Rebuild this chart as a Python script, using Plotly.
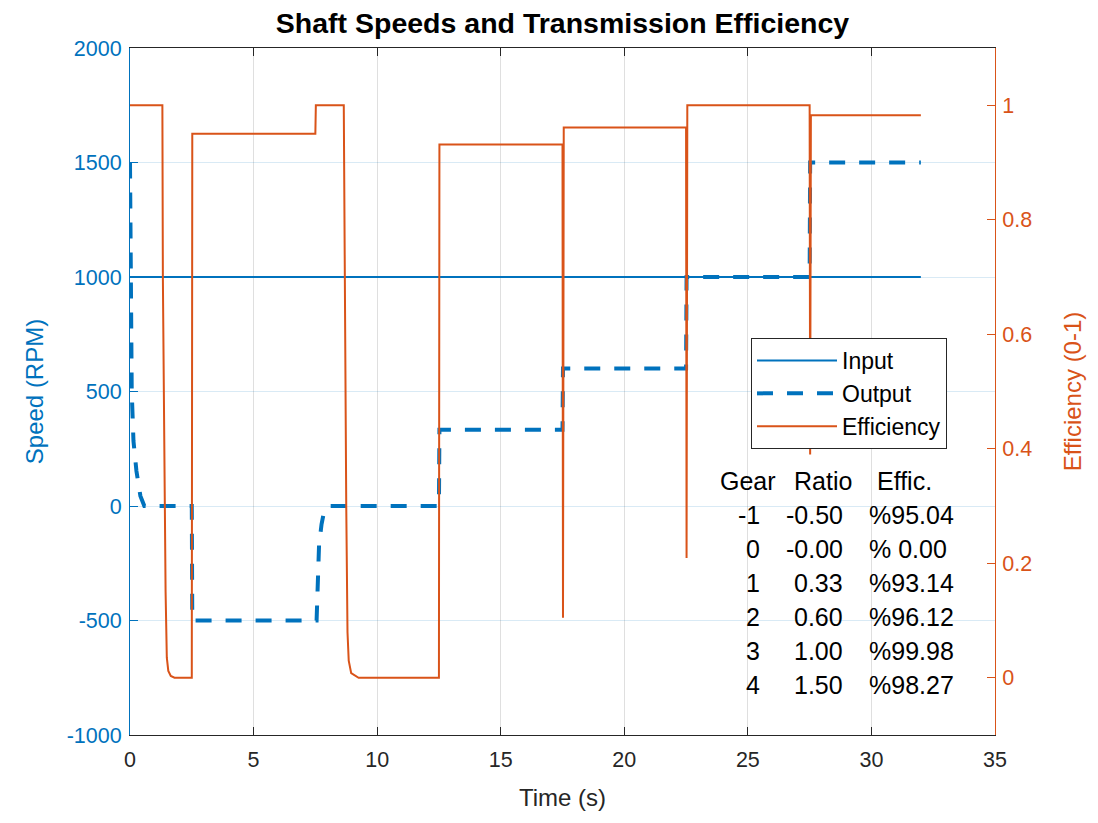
import plotly.graph_objects as go

# ---------------- data ----------------
t_input = [0, 32]
speed_input = [1000, 1000]

t_output = [0, 0.03, 0.07, 0.14, 0.26, 0.42, 0.58, 2.5, 2.52, 7.55, 7.6, 7.65, 7.75, 7.85, 8.0,
            12.5, 12.52, 17.5, 17.52, 22.5, 22.52, 27.5, 27.52, 32]
speed_output = [1500, 1000, 500, 284, 153, 44, 0, 0, -500, -500, -250, -170, -80, -25, 0,
                0, 333, 333, 600, 600, 1000, 1000, 1500, 1500]

t_eff = [0, 1.31, 1.33, 1.38, 1.44, 1.49, 1.55, 1.65, 1.8, 2.5, 2.52, 7.5, 7.52, 8.65, 8.7, 8.75,
         8.8, 8.85, 8.95, 9.25, 12.5, 12.52, 17.5, 17.52, 17.55, 22.5, 22.52, 22.55, 27.5, 27.52,
         27.55, 32]
eff = [1.0, 1.0, 0.7, 0.4, 0.15, 0.035, 0.012, 0.003, 0.0, 0.0, 0.9504, 0.9504, 1.0, 1.0, 0.6, 0.3,
       0.08, 0.03, 0.008, 0.0, 0.0, 0.9314, 0.9314, 0.105, 0.9612, 0.9612, 0.209, 0.9998, 0.9998, 0.39,
       0.9827, 0.9827]

gears = [-1, 0, 1, 2, 3, 4]
ratios = [-0.50, -0.0, 0.33, 0.60, 1.00, 1.50]
effic_pct = [95.04, 0.00, 93.14, 96.12, 99.98, 98.27]
table_headers = ["Gear", "Ratio", "Effic."]

x_ticks = [0, 5, 10, 15, 20, 25, 30, 35]
y_left_ticks = [-1000, -500, 0, 500, 1000, 1500, 2000]
y_left_ticklabels = ["-1000", "-500", "0", "500", "1000", "1500", "2000"]
y_right_ticks = [0, 0.2, 0.4, 0.6, 0.8, 1]
y_right_ticklabels = ["0", "0.2", "0.4", "0.6", "0.8", "1"]

# ---------------- style / layout ----------------
W, H = 1098, 823
L, R, T, B = 130, 995, 48, 735
BLUE = "#0072BD"
ORANGE = "#D95319"
DARK = "#262626"
FONT = "Liberation Sans, Arial, Helvetica, sans-serif"
TICK_SIZE = 21.5
LABEL_SIZE = 24


def px_x(p):
    return (p - L) / (R - L)


def px_y(p):
    return (B - p) / (B - T)


fig = go.Figure()
fig.add_trace(go.Scatter(x=t_input, y=speed_input, mode="lines", name="Input",
                         line=dict(color=BLUE, width=2)))
fig.add_trace(go.Scatter(x=t_output, y=speed_output, mode="lines", name="Output",
                         line=dict(color=BLUE, width=4, dash="16px,14px")))
fig.add_trace(go.Scatter(x=t_eff, y=eff, mode="lines", name="Efficiency", yaxis="y2",
                         line=dict(color=ORANGE, width=2)))

fig.update_layout(
    width=W, height=H, autosize=False,
    margin=dict(l=L, r=W - R, t=T, b=H - B, pad=0),
    paper_bgcolor="white", plot_bgcolor="white",
    font=dict(family=FONT, size=TICK_SIZE, color=DARK),
    title=dict(text="<b>Shaft Speeds and Transmission Efficiency</b>",
               x=((L + R) / 2) / W, xanchor="center",
               y=1 - 23 / H, yanchor="middle", yref="container",
               font=dict(size=28.5, color="#000000", family=FONT)),
    xaxis=dict(range=[0, 35], tickvals=x_ticks, ticks="inside", ticklen=8, tickcolor=DARK,
               showline=True, linecolor=DARK, linewidth=1, mirror="ticks",
               showgrid=True, gridcolor="rgba(38,38,38,0.15)", gridwidth=1, zeroline=False,
               tickfont=dict(size=TICK_SIZE, color=DARK), ticklabelstandoff=5,
               title=dict(text="Time (s)", font=dict(size=LABEL_SIZE, color=DARK), standoff=18)),
    yaxis=dict(range=[-1000, 2000], tickvals=y_left_ticks, ticktext=y_left_ticklabels,
               ticks="inside", ticklen=8,
               tickcolor=BLUE, showline=True, linecolor=BLUE, linewidth=1,
               showgrid=True, gridcolor="rgba(0,114,189,0.15)", gridwidth=1, zeroline=False,
               tickfont=dict(size=TICK_SIZE, color=BLUE), ticklabelstandoff=3,
               title=dict(text="Speed (RPM)", font=dict(size=LABEL_SIZE, color=BLUE), standoff=16)),
    yaxis2=dict(range=[-0.1, 1.1], tickvals=y_right_ticks, ticktext=y_right_ticklabels,
                overlaying="y", side="right", ticks="inside", ticklen=8, tickcolor=ORANGE,
                showline=True, linecolor=ORANGE, linewidth=1, showgrid=False, zeroline=False,
                tickfont=dict(size=TICK_SIZE, color=ORANGE), ticklabelstandoff=2,
                title=dict(text="Efficiency (0-1)", font=dict(size=LABEL_SIZE, color=ORANGE),
                           standoff=32)),
    legend=dict(x=px_x(751), y=px_y(338), xanchor="left", yanchor="top",
                bgcolor="white", bordercolor=DARK, borderwidth=1,
                font=dict(size=23, color="#000000", family=FONT), itemwidth=80,
                tracegroupgap=0),
    showlegend=True,
)

# white backing box behind the text table (covers grid, not data)
fig.add_shape(type="rect", xref="paper", yref="paper",
              x0=px_x(709), x1=px_x(967), y0=px_y(700), y1=px_y(455),
              fillcolor="white", line=dict(width=0), layer="between")

# table text
header_left = [718, 792, 875]
row_y0, row_dy = 481, 34
tbl_font = dict(size=25, color="#000000", family=FONT)
for hx, htxt in zip(header_left, table_headers):
    fig.add_annotation(text=htxt, xref="paper", yref="paper", x=px_x(hx), y=px_y(row_y0),
                       xanchor="left", yanchor="middle", showarrow=False, font=tbl_font)
for i, (g, r, e) in enumerate(zip(gears, ratios, effic_pct)):
    yy = px_y(row_y0 + row_dy * (i + 1))
    fig.add_annotation(text=f"{g:d}", xref="paper", yref="paper", x=px_x(762), y=yy,
                       xanchor="right", yanchor="middle", showarrow=False, font=tbl_font)
    fig.add_annotation(text=f"{r:.2f}", xref="paper", yref="paper", x=px_x(845), y=yy,
                       xanchor="right", yanchor="middle", showarrow=False, font=tbl_font)
    fig.add_annotation(text=f"%{e:5.2f}", xref="paper", yref="paper", x=px_x(867), y=yy,
                       xanchor="left", yanchor="middle", showarrow=False, font=tbl_font)

fig.write_html("out.html", config={"displayModeBar": False},
               post_script="document.body.style.margin='0';")
